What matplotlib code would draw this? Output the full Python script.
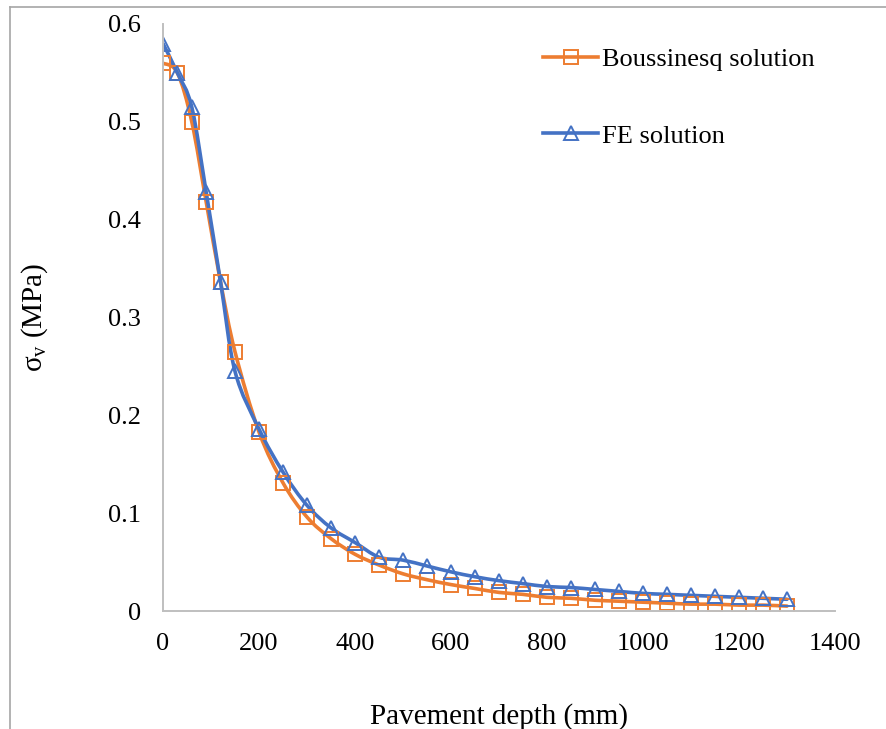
import numpy as np
import matplotlib
matplotlib.use("Agg")
import matplotlib.pyplot as plt
from matplotlib.path import Path
from matplotlib.patches import PathPatch
from matplotlib.lines import Line2D

plt.rcParams['font.family'] = ['Liberation Serif', 'DejaVu Serif']
plt.rcParams['mathtext.fontset'] = 'stix'

# depth (mm)
depth = [0, 30, 60, 90, 120, 150, 200, 250, 300, 350, 400, 450, 500, 550, 600,
         650, 700, 750, 800, 850, 900, 950, 1000, 1050, 1100, 1150, 1200, 1250, 1300]

boussinesq = [0.56, 0.55, 0.50, 0.418, 0.336, 0.265, 0.183, 0.131, 0.096, 0.074,
              0.058, 0.047, 0.038, 0.032, 0.027, 0.023, 0.019, 0.017, 0.014, 0.013,
              0.011, 0.010, 0.009, 0.008, 0.007, 0.007, 0.006, 0.006, 0.005]

fe = [0.58, 0.55, 0.515, 0.428, 0.336, 0.245, 0.186, 0.142, 0.108, 0.085,
      0.070, 0.055, 0.052, 0.046, 0.040, 0.035, 0.031, 0.028, 0.025, 0.024,
      0.022, 0.020, 0.018, 0.017, 0.016, 0.015, 0.014, 0.013, 0.012]

ORANGE = '#ED7D31'
BLUE = '#4472C4'
GREY = '#BFBFBF'


def smooth_path(x, y):
    # excel style smoothed line: cubic bezier, catmull-rom control points
    pts = np.column_stack([x, y]).astype(float)
    verts = [pts[0]]
    codes = [Path.MOVETO]
    n = len(pts)
    for i in range(n - 1):
        p0 = pts[i - 1] if i > 0 else pts[i]
        p1 = pts[i]
        p2 = pts[i + 1]
        p3 = pts[i + 2] if i + 2 < n else pts[i + 1]
        c1 = p1 + (p2 - p0) / 6.0
        c2 = p2 - (p3 - p1) / 6.0
        verts += [c1, c2, p2]
        codes += [Path.CURVE4] * 3
    return Path(verts, codes)


fig = plt.figure(figsize=(8.87, 7.29), dpi=100)
ax = fig.add_axes([163 / 887, 1 - 611 / 729, 672 / 887, 587 / 729])

for ys, col, mk, lab in [(boussinesq, ORANGE, 's', 'Boussinesq solution'),
                         (fe, BLUE, '^', 'FE solution')]:
    ax.add_patch(PathPatch(smooth_path(depth, ys), fill=False, edgecolor=col,
                           lw=2.6, capstyle='round', joinstyle='round'))
    ax.plot(depth, ys, ls='none', marker=mk, ms=10, mfc='none', mec=col, mew=1.4)
    # legend proxy
    ax.plot([], [], color=col, lw=2.6, marker=mk, ms=10, mfc='none', mec=col,
            mew=1.4, label=lab)

ax.set_xlim(0, 1400)
ax.set_ylim(0, 0.6)
ax.set_xticks(np.arange(0, 1401, 200))
ax.set_yticks(np.arange(0, 0.61, 0.1))
ax.set_yticklabels(['0', '0.1', '0.2', '0.3', '0.4', '0.5', '0.6'])

for s in ['top', 'right']:
    ax.spines[s].set_visible(False)
for s in ['left', 'bottom']:
    ax.spines[s].set_color(GREY)
    ax.spines[s].set_linewidth(1.4)
ax.tick_params(length=0, labelsize=19, pad=16)

ax.set_xlabel('Pavement depth (mm)', fontsize=21)
ax.set_ylabel(r'$\mathregular{\sigma_v}$ (MPa)', fontsize=21)
ax.xaxis.set_label_coords(0.5, -0.157)
ax.yaxis.set_label_coords(-0.168, 0.5)

ax.legend(loc='upper left', bbox_to_anchor=(543 / 887, 1 - 48 / 729),
          bbox_transform=fig.transFigure, frameon=False, fontsize=19,
          borderpad=0, borderaxespad=0, handlelength=2.1, handletextpad=0.15,
          labelspacing=2.0)

# outer chart border (left and top visible)
fig.add_artist(Line2D([10 / 887, 10 / 887], [0, 1 - 7 / 729], color='#A6A6A6', lw=1.2))
fig.add_artist(Line2D([10 / 887, 1], [1 - 7 / 729, 1 - 7 / 729], color='#A6A6A6', lw=1.2))

fig.savefig('out.png', dpi=100)
